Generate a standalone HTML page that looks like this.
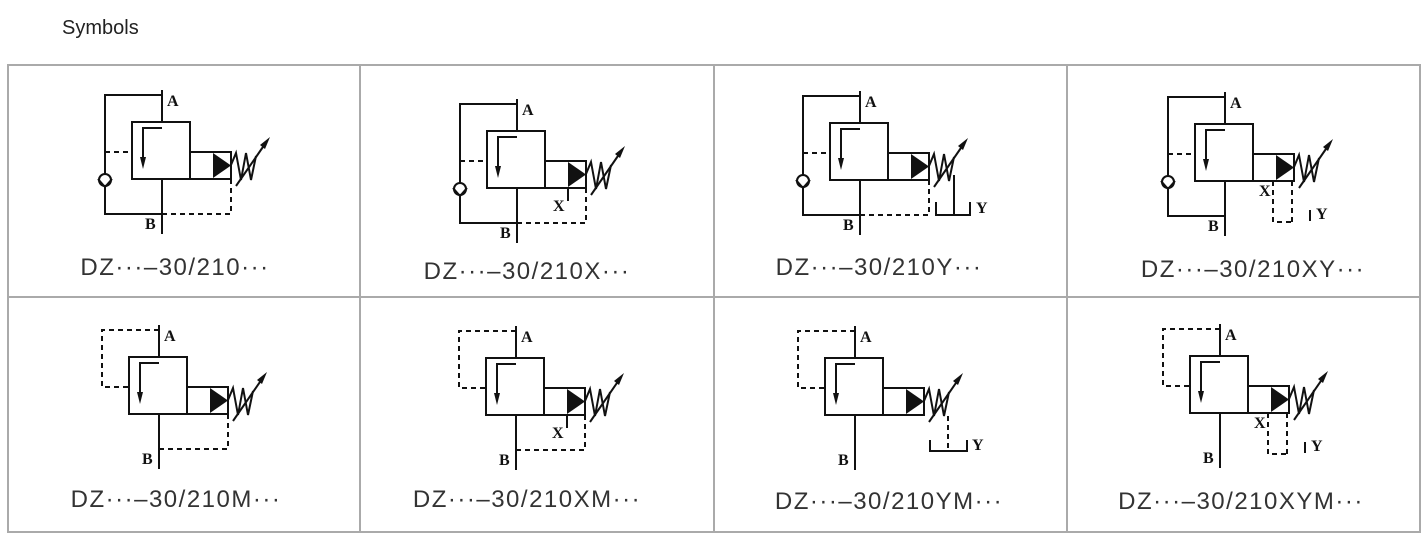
<!DOCTYPE html>
<html><head><meta charset="utf-8"><style>
html,body{margin:0;padding:0;background:#fff;width:1427px;height:536px;overflow:hidden}
svg{display:block}
.l{stroke:#111;stroke-width:2;fill:none}
.d{stroke:#111;stroke-width:2;fill:none;stroke-dasharray:5,4}
.t{font-family:"Liberation Serif",serif;font-size:16px;font-weight:bold;fill:#111}
.lab{font-family:"Liberation Sans",sans-serif;font-size:24px;fill:#333;letter-spacing:1.5px}
</style></head><body>
<svg width="1427" height="536" viewBox="0 0 1427 536">
<defs>
<g id="core">
<rect class="l" x="0" y="0" width="58" height="57"/>
<line class="l" x1="30" y1="-32" x2="30" y2="0"/>
<rect class="l" x="58" y="30" width="41" height="27"/>
<polygon points="81,31 99,43.5 81,56" fill="#111"/>
<polyline class="l" stroke-width="1.8" points="99,43 104,31 109,58 114,31 119,58 124,34"/>
<line class="l" stroke-width="1.8" x1="104" y1="64" x2="133" y2="22"/>
<polygon points="138,15 128,23 133,27" fill="#111"/>
<path class="l" d="M30,6 H11 V38"/>
<polygon points="8,35 14,35 11,47" fill="#111"/>
<line class="l" x1="30" y1="57" x2="30" y2="112"/>
<text class="t" x="35" y="-16">A</text>
<text class="t" x="13" y="107">B</text>
</g>
<g id="cv">
<path class="l" d="M30,-27 H-27 V92 H30"/>
<circle cx="-27" cy="58" r="6" fill="#fff" stroke="#111" stroke-width="2"/>
<polyline class="l" stroke-width="1.5" points="-34,57 -27,65 -20,57"/>
<line class="d" x1="-27" y1="30" x2="0" y2="30"/>
</g>
<g id="m">
<path class="d" d="M30,-27 H-27 V30 H0"/>
</g>
</defs>
<text x="62" y="34" font-family="Liberation Sans,sans-serif" font-size="20" fill="#222">Symbols</text>
<g stroke="#aaa" stroke-width="2" fill="none">
<rect x="8" y="65" width="1412" height="467"/>
<line x1="8" y1="297" x2="1420" y2="297"/>
<line x1="360" y1="65" x2="360" y2="532"/>
<line x1="714" y1="65" x2="714" y2="532"/>
<line x1="1067" y1="65" x2="1067" y2="532"/>
</g>

<g transform="translate(132,122)"><use href="#core"/><use href="#cv"/><path class="d" d="M30,92 H99 V57"/></g>
<g transform="translate(487,131)"><use href="#core"/><use href="#cv"/><path class="d" d="M30,92 H99 V57"/><line class="l" x1="81" y1="57" x2="81" y2="70"/><text class="t" x="66" y="80">X</text></g>
<g transform="translate(830,123)"><use href="#core"/><use href="#cv"/><path class="d" d="M30,92 H99 V57"/><line class="l" x1="124" y1="52" x2="124" y2="92"/><polyline class="l" points="106,79 106,92 140,92 140,79"/><text class="t" x="146" y="90">Y</text></g>
<g transform="translate(1195,124)"><use href="#core"/><use href="#cv"/><path class="d" d="M78,57 V98 H97"/><line class="d" x1="97" y1="57" x2="97" y2="98"/><line class="l" x1="115" y1="86" x2="115" y2="97"/><text class="t" x="64" y="72">X</text><text class="t" x="121" y="95">Y</text></g>

<g transform="translate(129,357)"><use href="#core"/><use href="#m"/><path class="d" d="M30,92 H99 V57"/></g>
<g transform="translate(486,358)"><use href="#core"/><use href="#m"/><path class="d" d="M30,92 H99 V57"/><line class="l" x1="81" y1="57" x2="81" y2="70"/><text class="t" x="66" y="80">X</text></g>
<g transform="translate(825,358)"><use href="#core"/><use href="#m"/><line class="d" x1="123" y1="58" x2="123" y2="93"/><polyline class="l" points="105,82 105,93 142,93 142,82"/><text class="t" x="147" y="92">Y</text></g>
<g transform="translate(1190,356)"><use href="#core"/><use href="#m"/><path class="d" d="M78,57 V98 H97"/><line class="d" x1="97" y1="57" x2="97" y2="98"/><line class="l" x1="115" y1="86" x2="115" y2="97"/><text class="t" x="64" y="72">X</text><text class="t" x="121" y="95">Y</text></g>

<g class="lab" text-anchor="middle">
<text x="175" y="275">DZ···–30/210···</text>
<text x="527" y="279">DZ···–30/210X···</text>
<text x="879" y="275">DZ···–30/210Y···</text>
<text x="1253" y="277">DZ···–30/210XY···</text>
<text x="176" y="507">DZ···–30/210M···</text>
<text x="527" y="507">DZ···–30/210XM···</text>
<text x="889" y="509">DZ···–30/210YM···</text>
<text x="1241" y="509">DZ···–30/210XYM···</text>
</g>
</svg>
</body></html>
